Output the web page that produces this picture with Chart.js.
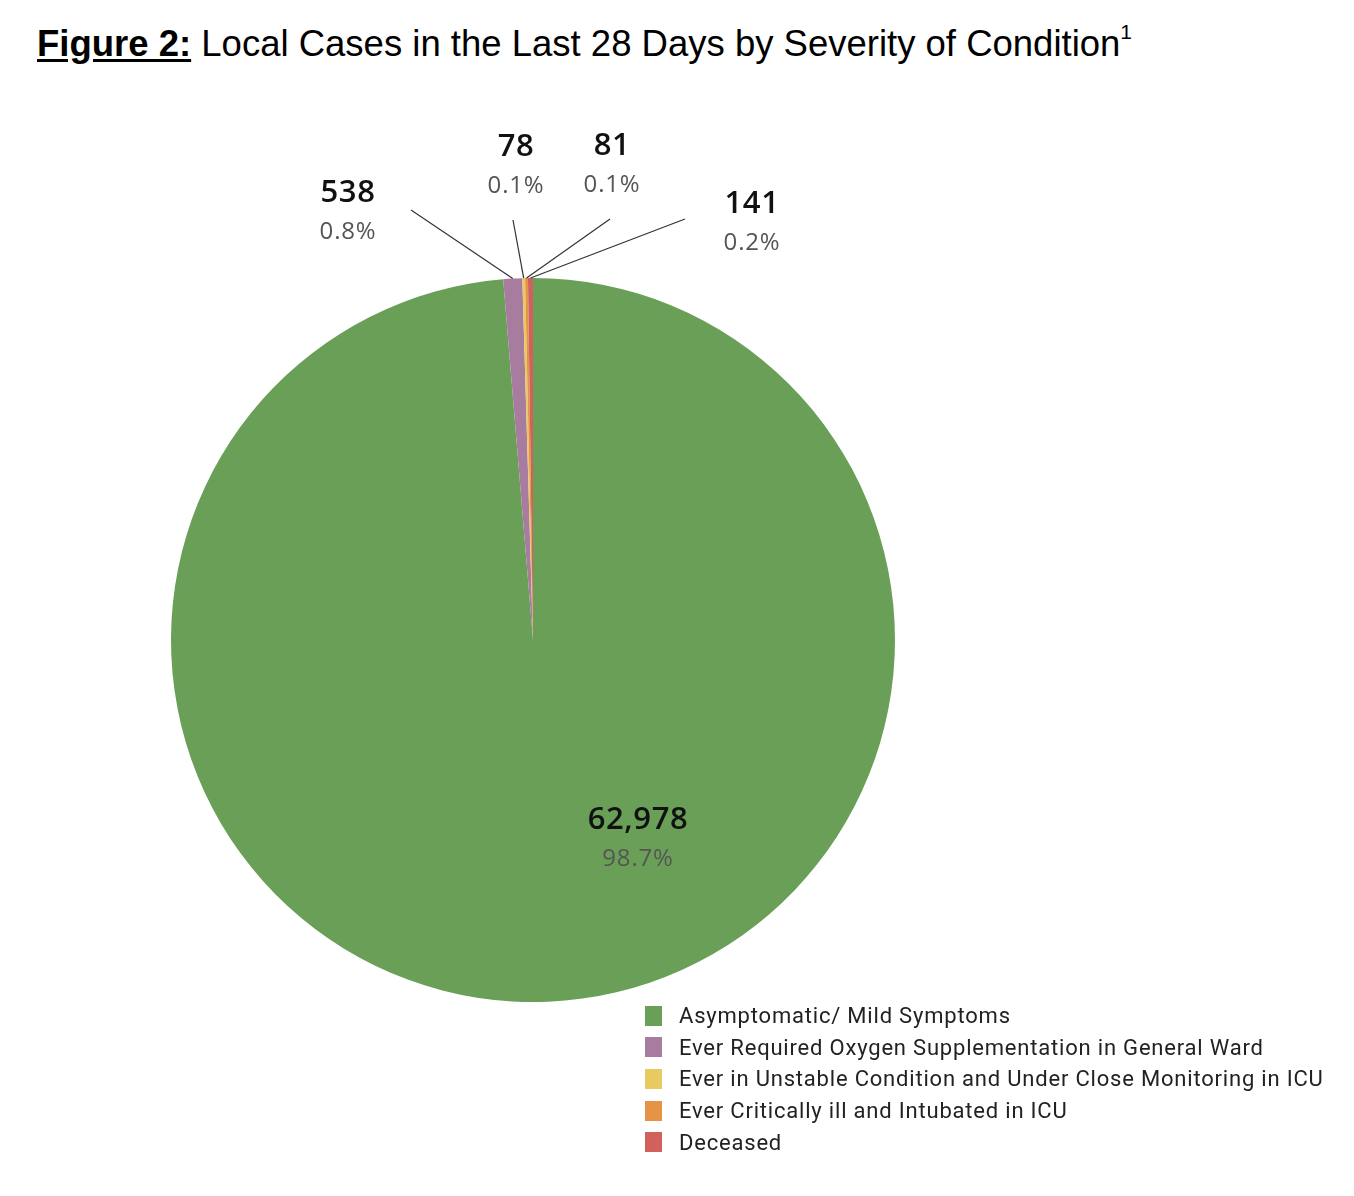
<!DOCTYPE html>
<html>
<head>
<meta charset="utf-8">
<script src="https://cdn.jsdelivr.net/npm/chart.js@4.4.1/dist/chart.umd.min.js"></script>
<style>
  html, body { margin: 0; padding: 0; background: #fff; }
  body { width: 1354px; height: 1196px; position: relative; overflow: hidden; }
  #titulo {
    position: absolute; left: 37px; top: 23px;
    font-family: "Liberation Sans", Arial, sans-serif; font-size: 36.5px; color: #000;
    white-space: nowrap;
  }
  #titulo b { text-decoration: underline; text-underline-offset: 3px; }
  #titulo sup { font-size: 21px; position: relative; top: -4px; }
  #grafico { position: absolute; left: 0; top: 0; }
  #leyenda {
    position: absolute; left: 645px; top: 1000px;
    font-family: Roboto, "Noto Sans", sans-serif; font-size: 22px; color: #222;
    letter-spacing: 0.8px;
  }
  .fila { height: 31.6px; display: flex; align-items: center; white-space: nowrap; }
  .caja { width: 17px; height: 20px; margin-right: 17px; }
</style>
</head>
<body>
<div id="titulo"><b>Figure 2:</b> Local Cases in the Last 28 Days by Severity of Condition<sup>1</sup></div>
<canvas id="grafico" width="1354" height="1196"></canvas>
<div id="leyenda"></div>
<script>
// Datos de la figura
const categorias = [
  "Asymptomatic/ Mild Symptoms",
  "Ever Required Oxygen Supplementation in General Ward",
  "Ever in Unstable Condition and Under Close Monitoring in ICU",
  "Ever Critically ill and Intubated in ICU",
  "Deceased"
];
const casos = [62978, 538, 78, 81, 141];
const porcentajes = ["98.7%", "0.8%", "0.1%", "0.1%", "0.2%"];
const colores = ["#6a9f58", "#a87c9f", "#e7ca60", "#e49444", "#d1615d"];

// Posición de etiquetas (relativa al centro del pastel), y fin de la línea guía
const posEtiquetas = [
  { x: 105, y: 180, linea: null },
  { x: -185, y: -447, linea: [-122, -430] },
  { x: -17, y: -493, linea: [-20, -420] },
  { x: 79, y: -494, linea: [77, -421] },
  { x: 219, y: -436, linea: [152, -421] }
];

const formato = (n) => n.toLocaleString("en-US");

// Plugin para dibujar las etiquetas con líneas guía
const etiquetasPlugin = {
  id: "etiquetas",
  afterDatasetsDraw(chart) {
    const ctx = chart.ctx;
    const arcos = chart.getDatasetMeta(0).data;
    ctx.save();
    arcos.forEach((arco, i) => {
      const p = arco.getProps(["x", "y", "startAngle", "endAngle", "outerRadius"], true);
      const pos = posEtiquetas[i];
      if (pos.linea) {
        const medio = (p.startAngle + p.endAngle) / 2;
        const x0 = p.x + Math.cos(medio) * p.outerRadius;
        const y0 = p.y + Math.sin(medio) * p.outerRadius;
        ctx.beginPath();
        ctx.moveTo(x0, y0);
        ctx.lineTo(p.x + pos.linea[0], p.y + pos.linea[1]);
        ctx.strokeStyle = "#333";
        ctx.lineWidth = 1.2;
        ctx.stroke();
      }
      const cx = p.x + pos.x;
      const cy = p.y + pos.y;
      ctx.textAlign = "center";
      ctx.textBaseline = "middle";
      ctx.fillStyle = "#111";
      ctx.font = "600 31px 'Open Sans', 'Noto Sans', sans-serif";
      ctx.letterSpacing = "0.6px";
      ctx.fillText(formato(casos[i]), cx, cy);
      ctx.fillStyle = "#555";
      ctx.font = "24px 'Open Sans', 'Noto Sans', sans-serif";
      ctx.letterSpacing = "0.8px";
      ctx.fillText(porcentajes[i], cx, cy + 39);
    });
    ctx.restore();
  }
};

new Chart(document.getElementById("grafico").getContext("2d"), {
  type: "pie",
  data: {
    labels: categorias,
    datasets: [{
      data: casos,
      backgroundColor: colores,
      borderWidth: 0
    }]
  },
  options: {
    responsive: false,
    animation: false,
    layout: { padding: { left: 171, top: 278, right: 459, bottom: 194 } },
    plugins: {
      legend: { display: false },
      tooltip: { enabled: false }
    }
  },
  plugins: [etiquetasPlugin]
});

// Leyenda en HTML
const leyenda = document.getElementById("leyenda");
categorias.forEach((c, i) => {
  const fila = document.createElement("div");
  fila.className = "fila";
  fila.innerHTML = `<div class="caja" style="background:${colores[i]}"></div><span>${c}</span>`;
  leyenda.appendChild(fila);
});
</script>
</body>
</html>
